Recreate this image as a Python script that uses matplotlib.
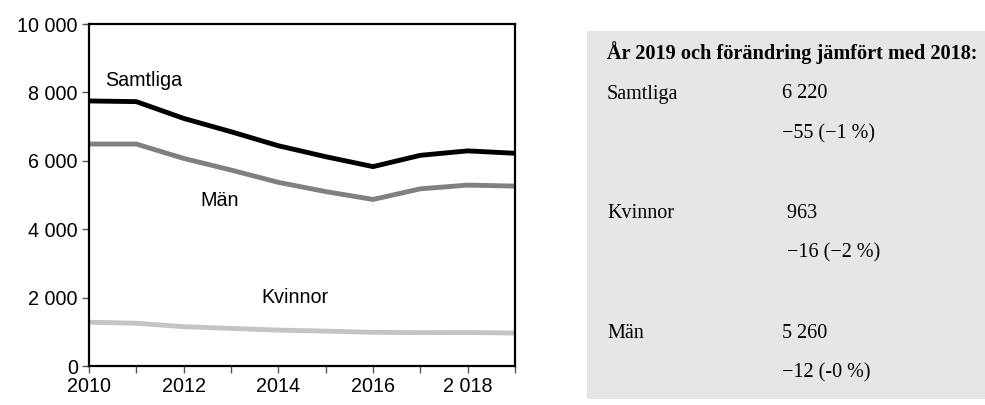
import matplotlib
matplotlib.use("Agg")
import matplotlib.pyplot as plt
from matplotlib.patches import Rectangle

years = [2010, 2011, 2012, 2013, 2014, 2015, 2016, 2017, 2018, 2019]
samtliga = [7750, 7730, 7240, 6850, 6440, 6120, 5830, 6160, 6290, 6220]
man = [6490, 6490, 6070, 5730, 5370, 5100, 4870, 5180, 5290, 5260]
kvinnor = [1280, 1250, 1150, 1100, 1050, 1020, 985, 975, 980, 963]

y_ticks = [0, 2000, 4000, 6000, 8000, 10000]
y_labels = ["0", "2 000", "4 000", "6 000", "8 000", "10 000"]
x_label_years = [2010, 2012, 2014, 2016, 2018]
x_labels = ["2010", "2012", "2014", "2016", "2 018"]

box_title = "År 2019 och förändring jämfört med 2018:"
box_rows = [
    ("Samtliga", "6 220", "\u221255 (\u22121 %)"),
    ("Kvinnor", " 963", " \u221216 (\u22122 %)"),
    ("Män", "5 260", "\u221212 (-0 %)"),
]

W, H = 985, 405
fig = plt.figure(figsize=(W / 100, H / 100), dpi=100)
sans = "Liberation Sans"
serif = "Liberation Serif"

# axes: left 89, right 515, top 24, bottom 366 (pixels)
ax = fig.add_axes([89 / W, 1 - 366 / H, (515 - 89) / W, (366 - 24) / H])
ax.plot(years, samtliga, color="black", lw=3.5, solid_joinstyle="round")
ax.plot(years, man, color="#808080", lw=3.5, solid_joinstyle="round")
ax.plot(years, kvinnor, color="#c4c4c4", lw=3.5, solid_joinstyle="round")
ax.set_xlim(2010, 2019)
ax.set_ylim(0, 10000)
ax.set_yticks(y_ticks)
ax.set_yticklabels(y_labels, fontfamily=sans, fontsize=14.2)
ax.set_xticks(years)
ax.set_xticklabels([x_labels[x_label_years.index(y)] if y in x_label_years else "" for y in years],
                   fontfamily=sans, fontsize=14.2)
ax.tick_params(direction="out", length=5, width=1, color="#555555", pad=3)
for s in ax.spines.values():
    s.set_linewidth(1.6)

ax.text(2010.35, 8350, "Samtliga", fontfamily=sans, fontsize=14.2, va="center")
ax.text(2012.35, 4850, "Män", fontfamily=sans, fontsize=14.2, va="center")
ax.text(2013.65, 2000, "Kvinnor", fontfamily=sans, fontsize=14.2, va="center")

# info box
fig.patches.append(Rectangle((587 / W, 1 - 399 / H), (985 - 587) / W, (399 - 31) / H,
                             transform=fig.transFigure, facecolor="#e6e6e6", edgecolor="none"))
fig.text(607 / W, 1 - 53 / H, box_title, fontfamily=serif, fontweight="bold",
         fontsize=14.6, va="center", ha="left")
row_y = [(94, 134), (213, 253), (333, 373)]
for (name, val, change), (y1, y2) in zip(box_rows, row_y):
    fig.text(607 / W, 1 - y1 / H, name, fontfamily=serif, fontsize=14.5, va="center")
    fig.text(782 / W, 1 - y1 / H, val, fontfamily=serif, fontsize=14.5, va="center")
    fig.text(782 / W, 1 - y2 / H, change, fontfamily=serif, fontsize=14.5, va="center")

fig.savefig("out.png", dpi=100)
